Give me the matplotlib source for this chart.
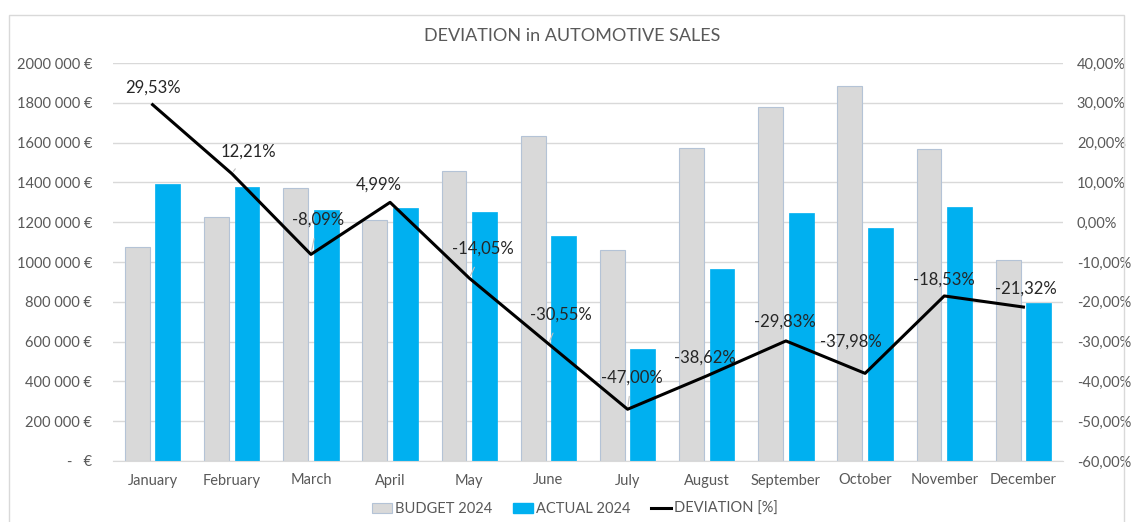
import matplotlib
matplotlib.use("Agg")
import matplotlib.pyplot as plt
from matplotlib.patches import Rectangle, Patch
from matplotlib.lines import Line2D
import numpy as np

months = ["January", "February", "March", "April", "May", "June", "July",
          "August", "September", "October", "November", "December"]
budget = [1075000, 1228000, 1370000, 1211000, 1455000, 1633000, 1060000,
          1571000, 1779000, 1885000, 1566000, 1008000]
actual = [1390000, 1378000, 1259000, 1271000, 1250000, 1130000, 561000,
          964000, 1248000, 1169000, 1275000, 793000]
deviation = [29.53, 12.21, -8.09, 4.99, -14.05, -30.55, -47.00, -38.62,
             -29.83, -37.98, -18.53, -21.32]
dev_labels = ["29,53%", "12,21%", "-8,09%", "4,99%", "-14,05%", "-30,55%",
              "-47,00%", "-38,62%", "-29,83%", "-37,98%", "-18,53%", "-21,32%"]
# label offsets in points (dx, dy) relative to each point, and whether a leader line is drawn
label_offsets = [(0, 12), (12, 16), (5, 25), (-8, 13), (10, 21), (9, 21),
                 (3, 23), (-1, 13), (-1, 14), (-10, 23), (0, 12), (2, 13)]
leader = [False, True, True, False, True, True, True, False, False, False, False, False]

left_ticks = [0, 200000, 400000, 600000, 800000, 1000000, 1200000, 1400000,
              1600000, 1800000, 2000000]
left_tick_labels = ["-   €", "200 000 €", "400 000 €", "600 000 €", "800 000 €",
                    "1000 000 €", "1200 000 €", "1400 000 €", "1600 000 €",
                    "1800 000 €", "2000 000 €"]
right_ticks = [-60, -50, -40, -30, -20, -10, 0, 10, 20, 30, 40]
right_tick_labels = ["-60,00%", "-50,00%", "-40,00%", "-30,00%", "-20,00%",
                     "-10,00%", "0,00%", "10,00%", "20,00%", "30,00%", "40,00%"]

title = "DEVIATION in AUTOMOTIVE SALES"
legend_labels = ["BUDGET 2024", "ACTUAL 2024", "DEVIATION [%]"]

plt.rcParams['font.family'] = ['Lato', 'DejaVu Sans']

GRAY_TXT = "#595959"
BUDGET_C = "#D9D9D9"
BUDGET_EDGE = "#B4C3D6"
ACTUAL_C = "#00B0F0"
GRID_C = "#D9D9D9"

fig = plt.figure(figsize=(11.31, 5.22), dpi=100)
fig.patches.append(Rectangle((9/1131, -0.01), (1124-9)/1131, 1 - 15/522 + 0.01,
                             transform=fig.transFigure, fill=False,
                             edgecolor="#D9D9D9", lw=1))

ax = fig.add_axes([113/1131, 1 - 461/522, (1063-113)/1131, (461-63)/522])
x = np.arange(len(months))
w = 0.315
off = 0.193
ax.bar(x - off, budget, w, color=BUDGET_C, edgecolor=BUDGET_EDGE, lw=0.8, zorder=2)
ax.bar(x + off, actual, w, color=ACTUAL_C, edgecolor=ACTUAL_C, lw=0.5, zorder=2)
ax.set_xlim(-0.5, len(months) - 0.5)
ax.set_ylim(0, 2000000)
ax.set_yticks(left_ticks)
ax.set_yticklabels(left_tick_labels)
ax.set_xticks(x)
ax.set_xticklabels(months)
ax.tick_params(axis='both', length=0, colors=GRAY_TXT, labelsize=10.5)
ax.tick_params(axis='x', pad=9)
ax.tick_params(axis='y', pad=15)
ax.grid(axis='y', color=GRID_C, lw=1, zorder=0)
ax.set_axisbelow(True)
for s in ["top", "right", "left"]:
    ax.spines[s].set_visible(False)
ax.spines["bottom"].set_color(GRID_C)

ax2 = ax.twinx()
ax2.set_ylim(-60, 40)
ax2.set_yticks(right_ticks)
ax2.set_yticklabels(right_tick_labels)
ax2.tick_params(axis='y', length=0, colors=GRAY_TXT, labelsize=10.5, pad=10)
for s in ["top", "right", "left", "bottom"]:
    ax2.spines[s].set_visible(False)
ax2.plot(x, deviation, color="black", lw=2.2, zorder=5)
for i, (xv, yv) in enumerate(zip(x, deviation)):
    dx, dy = label_offsets[i]
    ap = dict(arrowstyle="-", color="#BFBFBF", lw=0.8, shrinkA=6, shrinkB=2) if leader[i] else None
    ax2.annotate(dev_labels[i], (xv, yv), xytext=(dx, dy), textcoords="offset points",
                 ha="center", va="center", fontsize=12, color="#262626",
                 arrowprops=ap, zorder=6)

fig.text(572/1131, 1 - 36/522, title, ha="center", va="center",
         fontsize=13, color=GRAY_TXT)

handles = [Patch(facecolor=BUDGET_C, edgecolor=BUDGET_EDGE, lw=0.8),
           Patch(facecolor=ACTUAL_C, edgecolor=ACTUAL_C),
           Line2D([0], [0], color="black", lw=2.2)]
fig.legend(handles, legend_labels, loc="center", bbox_to_anchor=(575/1131, 1 - 509/522),
           ncol=3, frameon=False, fontsize=10.5, labelcolor=GRAY_TXT,
           handlelength=1.4, handletextpad=0.2, columnspacing=1.4)

fig.savefig("out.png", dpi=100)
